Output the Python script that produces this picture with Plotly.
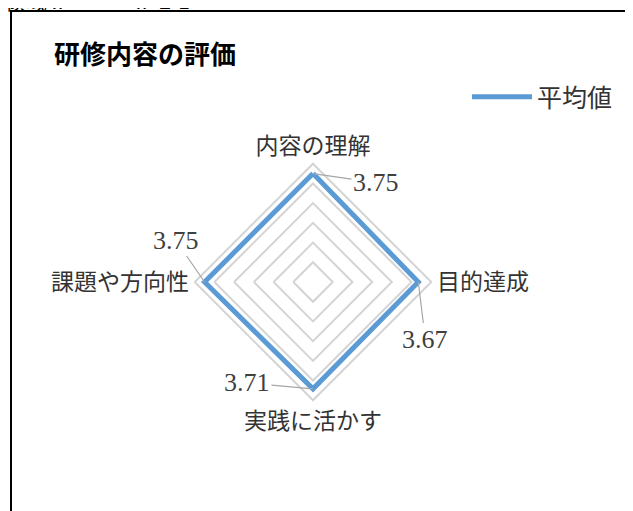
import math
import plotly.graph_objects as go

categories = ["内容の理解", "目的達成", "実践に活かす", "課題や方向性"]
values = [3.75, 3.67, 3.71, 3.75]
series_name = "平均値"
title_text = "研修内容の評価"
header_text = "領域Ⅱ　　　Ⅱ-2-1"
# label offsets (px) of the data labels relative to their points
label_offsets = [(63, 9), (7, 57), (-66, -6), (-29, -42)]

W, H = 633, 511
OFF = 8  # page body margin in the browser
cx, cy, R = 313 - OFF, 282 - OFF, 118.3
rmin, rmax = 1, 4

dom_x = [(cx - R) / W, (cx + R) / W]
dom_y = [(H - cy - R) / H, (H - cy + R) / H]

fig = go.Figure()
fig.add_trace(go.Scatterpolar(
    r=values + values[:1],
    theta=categories + categories[:1],
    mode="lines",
    name=series_name,
    line=dict(color="#5B9BD5", width=5),
    showlegend=True,
))

annotations = []
n = len(categories)
for i, (v, (ax, ay)) in enumerate(zip(values, label_offsets)):
    ang = math.radians(90 - 360 * i / n)
    rr = (v - rmin) / (rmax - rmin) * R
    px = cx + rr * math.cos(ang)
    py = cy - rr * math.sin(ang)
    annotations.append(dict(
        x=px / W, y=1 - py / H, xref="paper", yref="paper",
        text=f"{v:.2f}", showarrow=True, arrowhead=0, arrowwidth=1.2,
        arrowcolor="#a6a6a6", ax=ax, ay=ay, standoff=0,
        font=dict(family="Liberation Serif, DejaVu Serif, serif", size=26, color="#404040"),
    ))

annotations.append(dict(
    x=(52 - OFF) / W, y=1 - (53 - OFF) / H, xref="paper", yref="paper",
    xanchor="left", yanchor="middle",
    text=f"<b>{title_text}</b>", showarrow=False,
    font=dict(family="Noto Sans CJK JP", size=26, color="#000000"),
))
annotations.append(dict(
    x=(3 - OFF) / W, y=1 + (0 + OFF) / H, xref="paper", yref="paper",
    xanchor="left", yanchor="middle",
    text=header_text, showarrow=False,
    font=dict(family="Noto Sans CJK JP", size=21, color="#000000"),
))

fig.update_layout(
    width=W, height=H,
    margin=dict(l=0, r=0, t=0, b=0),
    paper_bgcolor="white",
    plot_bgcolor="white",
    font=dict(family="Noto Sans CJK JP", color="#333333"),
    polar=dict(
        domain=dict(x=dom_x, y=dom_y),
        gridshape="linear",
        bgcolor="white",
        radialaxis=dict(
            range=[rmin, rmax], tick0=1, dtick=0.5,
            showticklabels=False, ticks="", showline=False,
            gridcolor="#d4d4d4", gridwidth=2,
        ),
        angularaxis=dict(
            rotation=90, direction="clockwise",
            showgrid=False, ticks="", showline=True,
            linecolor="#d4d4d4", linewidth=2,
            tickfont=dict(size=23, color="#333333", family="Noto Sans CJK JP"),
        ),
    ),
    legend=dict(
        x=(618 - OFF) / W, y=1 - (97 - OFF) / H, xanchor="right", yanchor="middle",
        font=dict(size=25, color="#333333", family="Noto Sans CJK JP"),
        bgcolor="rgba(0,0,0,0)", itemwidth=60,
    ),
    annotations=annotations,
    shapes=[dict(
        type="rect", xref="paper", yref="paper",
        x0=(11 - OFF) / W, x1=1.05, y0=-0.05, y1=1 - (11 - OFF) / H,
        line=dict(color="black", width=2), fillcolor="rgba(0,0,0,0)",
    )],
)

fig.write_html("out.html")
